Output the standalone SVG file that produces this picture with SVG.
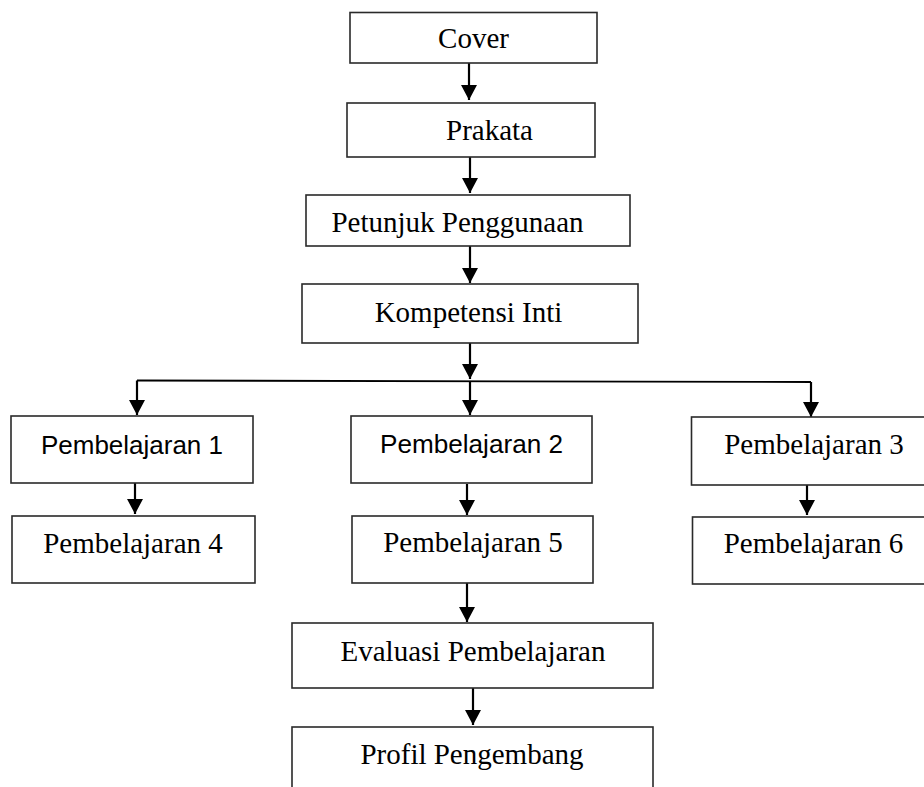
<svg xmlns="http://www.w3.org/2000/svg" width="924" height="787" viewBox="0 0 924 787">
<style>
.box{fill:#fff;stroke:#2a2a2a;stroke-width:1.6}
.t{font-family:"Liberation Serif","Times New Roman",serif;font-size:29px;fill:#000;text-anchor:middle}
.s{font-family:"Liberation Sans",Arial,sans-serif;font-size:25px;fill:#000;text-anchor:middle}
.c{fill:none;stroke:#000;stroke-width:2.2}
</style>
<defs>
<marker id="ah" markerUnits="userSpaceOnUse" viewBox="0 0 15 16" markerWidth="15" markerHeight="16" refX="15" refY="8" orient="auto">
<path d="M0,0 L15,8 L0,16 z" fill="#000"/>
</marker>
<clipPath id="clipPet"><rect x="306" y="195" width="324" height="43"/></clipPath>
</defs>
<rect width="924" height="787" fill="#fff"/>
<g id="connectors">
<path class="c" d="M469,63 V100" marker-end="url(#ah)"/>
<path class="c" d="M470,157 V193" marker-end="url(#ah)"/>
<path class="c" d="M470,246 V283" marker-end="url(#ah)"/>
<path class="c" d="M470,343 V379" marker-end="url(#ah)"/>
<path class="c" d="M137,380.5 L811,382" style="stroke-width:1.8"/>
<path class="c" d="M137,380.5 V415" marker-end="url(#ah)"/>
<path class="c" d="M470,381 V415" marker-end="url(#ah)"/>
<path class="c" d="M811,382 V417" marker-end="url(#ah)"/>
<path class="c" d="M135,483 V514" marker-end="url(#ah)"/>
<path class="c" d="M467,484 V515" marker-end="url(#ah)"/>
<path class="c" d="M807,485 V515" marker-end="url(#ah)"/>
<path class="c" d="M467,583 V622" marker-end="url(#ah)"/>
<path class="c" d="M473,688 V725" marker-end="url(#ah)"/>
</g>
<g id="cover"><rect class="box" x="350" y="12.5" width="247" height="50.5"/><text class="t" x="473.5" y="48">Cover</text></g>
<g id="prakata"><rect class="box" x="347" y="103" width="248" height="54"/><text class="t" x="489.5" y="140">Prakata</text></g>
<g id="petunjuk"><rect class="box" x="306" y="195" width="324" height="51"/><text class="t" x="457.5" y="232" clip-path="url(#clipPet)">Petunjuk Penggunaan</text></g>
<g id="kompetensi"><rect class="box" x="302" y="284" width="336" height="59"/><text class="t" x="468.5" y="322">Kompetensi Inti</text></g>
<g id="p1"><rect class="box" x="11" y="416" width="242" height="67"/><text class="s" x="132" y="454" textLength="182" lengthAdjust="spacingAndGlyphs">Pembelajaran 1</text></g>
<g id="p2"><rect class="box" x="351" y="416" width="241" height="67"/><text class="s" x="471.5" y="453" textLength="183" lengthAdjust="spacingAndGlyphs">Pembelajaran 2</text></g>
<g id="p3"><rect class="box" x="691.5" y="417" width="240" height="68"/><text class="t" x="814" y="454">Pembelajaran 3</text></g>
<g id="p4"><rect class="box" x="12" y="516" width="243" height="67"/><text class="t" x="133" y="553">Pembelajaran 4</text></g>
<g id="p5"><rect class="box" x="352" y="516" width="241" height="67"/><text class="t" x="473" y="552">Pembelajaran 5</text></g>
<g id="p6"><rect class="box" x="692.5" y="517" width="240" height="67"/><text class="t" x="813.5" y="553">Pembelajaran 6</text></g>
<g id="evaluasi"><rect class="box" x="292" y="623" width="361" height="65"/><text class="t" x="473" y="661">Evaluasi Pembelajaran</text></g>
<g id="profil"><rect class="box" x="292" y="727" width="361" height="80"/><text class="t" x="472" y="764">Profil Pengembang</text></g>
</svg>
